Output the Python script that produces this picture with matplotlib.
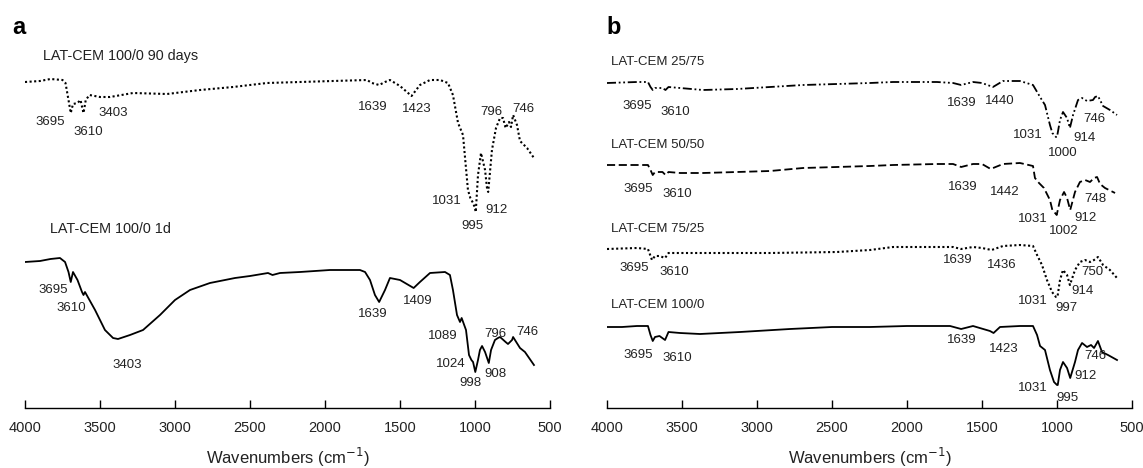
import matplotlib
matplotlib.use("Agg")
import matplotlib.pyplot as plt

plt.rcParams['font.family'] = ['Liberation Sans', 'DejaVu Sans']

# ---------------- Panel a data (wavenumber, transmittance a.u. with offset) -------------
a90_w = [4000, 3900, 3830, 3750, 3730, 3710, 3695, 3680, 3650, 3630, 3610, 3595, 3570, 3500, 3433,
         3280, 3053, 2833, 2613, 2387, 2167, 1947, 1720, 1687, 1639, 1600, 1567, 1500, 1423, 1367,
         1300, 1233, 1180, 1147, 1113, 1080, 1047, 1031, 1013, 1000, 995, 980, 960, 933, 920, 912,
         887, 860, 833, 813, 796, 773, 760, 746, 720, 700, 653, 607]
a90_t = [326, 327, 329, 328, 325, 308, 295, 304, 305, 308, 295, 308, 313, 311, 311,
         315, 314, 318, 321, 325, 326, 327, 328, 325, 323, 326, 328, 322, 312, 323,
         328, 328, 325, 313, 285, 273, 218, 210, 205, 200, 196, 233, 255, 238, 220, 216,
         258, 280, 290, 290, 280, 286, 281, 293, 283, 267, 260, 250]

a1d_w = [4000, 3900, 3830, 3767, 3733, 3710, 3695, 3680, 3650, 3620, 3610, 3600, 3533, 3467, 3413,
         3380, 3300, 3213, 3100, 3000, 2900, 2767, 2600, 2500, 2380, 2350, 2300, 2167, 1967, 1767,
         1733, 1700, 1667, 1639, 1600, 1567, 1500, 1409, 1367, 1300, 1200, 1167, 1147, 1120, 1100,
         1089, 1060, 1040, 1024, 1013, 998, 980, 967, 953, 933, 908, 893, 867, 847, 833, 796, 780,
         753, 746, 700, 667, 607]
a1d_t = [146, 147, 149, 150, 146, 136, 126, 136, 128, 116, 113, 116, 98, 78, 70,
         69, 73, 78, 93, 108, 118, 125, 130, 132, 135, 133, 135, 136, 138, 138,
         136, 128, 113, 106, 118, 130, 128, 120, 126, 135, 136, 133, 118, 93, 86,
         90, 78, 53, 48, 46, 36, 48, 58, 62, 56, 45, 58, 68, 70, 71, 66, 64,
         68, 71, 60, 56, 43]

# ---------------- Panel b data -------------
b2575_w = [4000, 3800, 3727, 3710, 3695, 3680, 3650, 3630, 3610, 3590, 3513, 3360, 3133, 2913, 2693,
           2467, 2247, 2093, 1800, 1693, 1639, 1560, 1500, 1427, 1360, 1247, 1160, 1113, 1080, 1047,
           1031, 1007, 1000, 980, 960, 933, 914, 893, 860, 833, 800, 760, 746, 727, 693, 647, 600]
b2575_t = [325, 326, 326, 321, 318, 320, 320, 320, 318, 321, 320, 318, 319, 321, 323,
           324, 325, 326, 326, 325, 323, 326, 325, 321, 327, 327, 323, 311, 303, 283,
           275, 271, 271, 288, 296, 290, 280, 293, 308, 310, 307, 308, 311, 312, 302, 298, 293]

b5050_w = [4000, 3800, 3727, 3710, 3695, 3680, 3650, 3630, 3610, 3590, 3513, 3360, 3133, 2913, 2693,
           2467, 2247, 2093, 1800, 1693, 1639, 1560, 1500, 1442, 1360, 1247, 1160, 1147, 1120, 1087,
           1047, 1031, 1007, 1002, 980, 953, 933, 912, 880, 847, 813, 780, 753, 733, 713, 680, 613]
b5050_t = [243, 243, 243, 238, 233, 236, 236, 236, 233, 236, 235, 235, 236, 237, 240,
           241, 242, 243, 244, 244, 241, 244, 244, 239, 244, 245, 242, 230, 225, 220,
           208, 198, 194, 193, 208, 216, 210, 198, 216, 226, 228, 226, 230, 231, 224, 220, 215]

b7525_w = [4000, 3800, 3727, 3700, 3680, 3650, 3613, 3590, 3360, 2913, 2467, 2247, 2093, 1800, 1693,
           1639, 1560, 1500, 1436, 1360, 1247, 1160, 1133, 1100, 1067, 1033, 1007, 997, 980, 960,
           933, 914, 880, 847, 813, 780, 753, 727, 693, 647, 600]
b7525_t = [159, 160, 159, 148, 152, 152, 150, 155, 155, 155, 156, 158, 161, 161, 161,
           159, 161, 160, 158, 162, 163, 162, 153, 143, 128, 116, 111, 111, 128, 138,
           133, 123, 138, 146, 148, 146, 148, 151, 143, 138, 130]

b1000_w = [4000, 3900, 3800, 3727, 3710, 3695, 3680, 3650, 3613, 3590, 3513, 3380, 3113, 2780, 2500,
           2247, 2000, 1713, 1639, 1560, 1447, 1423, 1380, 1247, 1160, 1133, 1113, 1080, 1047, 1020,
           1000, 995, 980, 960, 933, 912, 880, 860, 833, 800, 773, 753, 727, 700, 660, 600]
b1000_t = [81, 81, 82, 82, 73, 67, 71, 72, 68, 76, 75, 74, 76, 79, 81,
           81, 82, 82, 79, 82, 77, 75, 81, 82, 82, 73, 62, 58, 38, 26,
           23, 23, 38, 46, 40, 30, 46, 58, 65, 61, 63, 60, 67, 56, 53, 48]

# ---------------- Annotations (text, wavenumber, level) -------------
a_titles = [("LAT-CEM 100/0 90 days", 3880, 352), ("LAT-CEM 100/0 1d", 3833, 179)]
a_peaks = [("3695", 3833, 286), ("3610", 3580, 276), ("3403", 3413, 295), ("1639", 1680, 301),
           ("1423", 1387, 299), ("796", 893, 296), ("746", 680, 299), ("1031", 1187, 207),
           ("995", 1020, 182), ("912", 860, 198),
           ("3695", 3813, 118), ("3610", 3693, 100), ("3403", 3320, 43), ("1639", 1680, 94),
           ("1409", 1380, 107), ("1089", 1213, 72), ("1024", 1160, 44), ("998", 1033, 25),
           ("908", 867, 34), ("796", 867, 74), ("746", 653, 76)]

b_titles = [("LAT-CEM 25/75", 3973, 346), ("LAT-CEM 50/50", 3973, 263),
            ("LAT-CEM 75/25", 3973, 179), ("LAT-CEM 100/0", 3973, 103)]
b_peaks = [("3695", 3800, 302), ("3610", 3547, 296), ("1639", 1633, 305), ("1440", 1380, 307),
           ("1031", 1193, 273), ("1000", 960, 255), ("914", 820, 270), ("746", 753, 289),
           ("3695", 3793, 219), ("3610", 3533, 214), ("1639", 1627, 221), ("1442", 1347, 216),
           ("1031", 1160, 189), ("1002", 953, 177), ("912", 807, 190), ("748", 747, 209),
           ("3695", 3820, 140), ("3610", 3553, 136), ("1639", 1660, 148), ("1436", 1367, 143),
           ("1031", 1160, 107), ("997", 940, 100), ("914", 833, 117), ("750", 767, 136),
           ("3695", 3793, 53), ("3610", 3533, 50), ("1639", 1633, 68), ("1423", 1353, 59),
           ("1031", 1160, 20), ("995", 933, 10), ("912", 807, 32), ("746", 747, 52)]

xticks = [4000, 3500, 3000, 2500, 2000, 1500, 1000, 500]

W, H = 1143, 468
fig = plt.figure(figsize=(W / 100, H / 100), dpi=100)
bottom = (H - 408) / H
axA = fig.add_axes([25 / W, bottom, 525 / W, 1 - bottom])
axB = fig.add_axes([607 / W, bottom, 525 / W, 1 - bottom])

txtc = '#222222'
lw = 1.3
axA.plot(a90_w, a90_t, color='black', lw=1.5, linestyle=(0, (1, 1.2)))
axA.plot(a1d_w, a1d_t, color='black', lw=lw)

axB.plot(b2575_w, b2575_t, color='black', lw=lw, linestyle=(0, (5, 1.5, 1, 1.5, 1, 1.5)))
axB.plot(b5050_w, b5050_t, color='black', lw=lw, linestyle=(0, (4.5, 2)))
axB.plot(b7525_w, b7525_t, color='black', lw=1.5, linestyle=(0, (1, 1.2)))
axB.plot(b1000_w, b1000_t, color='black', lw=lw)

for ax, titles, peaks, tsize in [(axA, a_titles, a_peaks, 10.4), (axB, b_titles, b_peaks, 9.5)]:
    ax.set_xlim(4000, 500)
    ax.set_ylim(0, 408)
    ax.patch.set_alpha(0)
    for s in ['left', 'right', 'top']:
        ax.spines[s].set_visible(False)
    ax.spines['bottom'].set_linewidth(1.0)
    ax.set_yticks([])
    ax.set_xticks(xticks)
    ax.set_xticklabels([str(t) for t in xticks])
    ax.tick_params(axis='x', direction='in', length=6, width=1.0, pad=9,
                   labelsize=10.5, labelcolor=txtc)
    ax.set_xlabel('Wavenumbers (cm$^{-1}$)', fontsize=12, color=txtc, labelpad=8)
    for t, w, v in titles:
        ax.text(w, v, t, ha='left', va='center', fontsize=tsize, color=txtc)
    for t, w, v in peaks:
        ax.text(w, v, t, ha='center', va='center', fontsize=9.5, color=txtc)

fig.text(12 / W, 1 - 28 / H, 'a', fontsize=17, fontweight='bold', ha='left', va='center')
fig.text(606 / W, 1 - 27 / H, 'b', fontsize=17, fontweight='bold', ha='left', va='center')

fig.savefig('out.png', dpi=100)
